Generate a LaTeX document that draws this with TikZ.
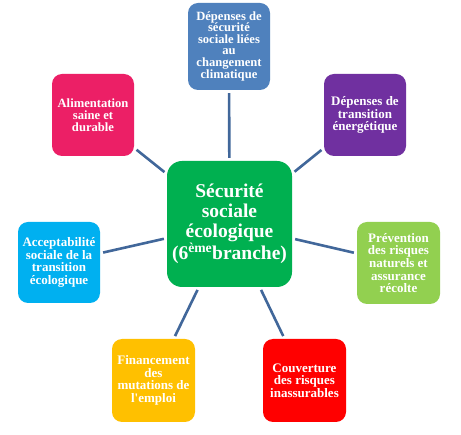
\documentclass[tikz,border=0pt]{standalone}
\usepackage{fontspec}
\setmainfont{Liberation Serif}
\definecolor{cblue}{HTML}{4F81BD}
\definecolor{cpink}{HTML}{EC1F66}
\definecolor{cpurple}{HTML}{7030A0}
\definecolor{ccyan}{HTML}{00B0F0}
\definecolor{clgreen}{HTML}{92D050}
\definecolor{cyellow}{HTML}{FFC000}
\definecolor{cred}{HTML}{FF0000}
\definecolor{cgreen}{HTML}{00B050}
\definecolor{cline}{HTML}{41679A}
\tikzset{
  sat/.style={rounded corners=10pt, minimum width=82pt, minimum height=82pt, inner sep=1pt,
    text=white, align=center, font=\fontsize{13}{12.6}\selectfont\bfseries},
  hub/.style={rounded corners=15pt, minimum width=125pt, minimum height=126pt, inner sep=1pt,
    fill=cgreen, text=white, align=center, font=\fontsize{19.5}{20}\selectfont\bfseries},
  conn/.style={draw=cline, line width=2.6pt, shorten >=3pt, shorten <=3pt}
}
\begin{document}
\begin{tikzpicture}[x=1pt,y=-1pt]
\useasboundingbox (0,0) rectangle (461,435);
\fill[white] (0,0) rectangle (461,435);
\node[hub] (c) at (229.5,224) {Sécurité\\sociale\\écologique\\(6\textsuperscript{ème}branche)};
\node[sat, fill=cblue, minimum height=87pt, font=\fontsize{12.6}{11.5}\selectfont\bfseries] (t) at (229,46.5) {Dépenses de\\sécurité\\sociale liées\\au\\changement\\climatique};
\node[sat, fill=cpink, font=\fontsize{12.6}{11.8}\selectfont\bfseries] (tl) at (93,115) {Alimentation\\saine et\\durable};
\node[sat, fill=cpurple] (tr) at (365,115) {Dépenses de\\transition\\énergétique};
\node[sat, fill=ccyan, minimum height=81pt] (l) at (59,262.5) {Acceptabilité\\sociale de la\\transition\\écologique};
\node[sat, fill=clgreen, minimum width=83pt] (r) at (398.5,263) {Prévention\\des risques\\naturels et\\assurance\\récolte};
\node[sat, fill=cyellow, minimum width=83pt, minimum height=83pt] (bl) at (153.5,380.5) {Financement\\des\\mutations de\\l\textquotesingle emploi};
\node[sat, fill=cred, minimum width=83pt, minimum height=83pt] (br) at (304.5,380.5) {Couverture\\des risques\\inassurables};
\foreach \n in {t,tl,tr,l,r,bl,br} \draw[conn] (c) -- (\n);
\end{tikzpicture}
\end{document}
